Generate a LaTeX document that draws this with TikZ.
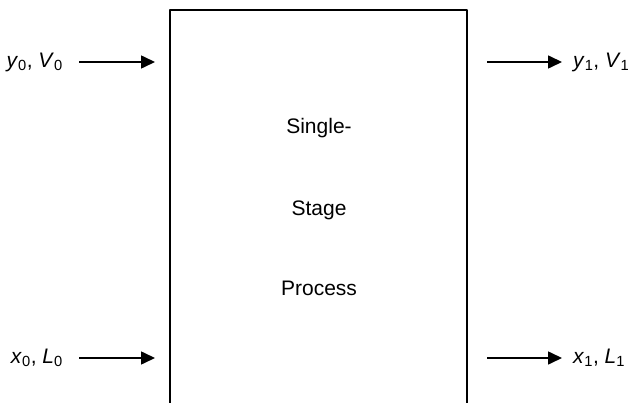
\documentclass[tikz,border=0pt]{standalone}
\usepackage{fontspec}
\setmainfont{Liberation Sans}
\usetikzlibrary{positioning,arrows.meta}
\newcommand{\var}[2]{\textit{#1}\textsubscript{#2}}
\begin{document}
\begin{tikzpicture}[x=1pt,y=-1pt,>={Triangle[length=14pt,width=13pt]}, font=\fontsize{21}{25}\selectfont, line join=round]
		\useasboundingbox (0,0) rectangle (631,403);
		\path%box corners and arrow ends
		(170,10) coordinate (TL) (467,10) coordinate (TR)
		(170,420) coordinate (BL) (467,420) coordinate (BR)
		(79,62) coordinate (Vin) (155,62) coordinate (VinE)
		(79,358) coordinate (Lin) (155,358) coordinate (LinE)
		(487,62) coordinate (Vout) (562,62) coordinate (VoutE)
		(487,358) coordinate (Lout) (562,358) coordinate (LoutE)
		;
		\draw[line width=1.3pt] (BL)--(TL)--(TR)--(BR);
		\node (s1) at (319,128) {Single-};
		\node (s2) at (319,210) {Stage};
		\node (s3) at (319,288) {Process};
		\node[anchor=east,inner sep=0pt] (y0) at (63,62) {\var{y}{0}, \var{V}{0}};
		\node[anchor=east,inner sep=0pt] (x0) at (63,358) {\var{x}{0}, \var{L}{0}};
		\node[anchor=west,inner sep=0pt] (y1) at (573,62) {\var{y}{1}, \var{V}{1}};
		\node[anchor=west,inner sep=0pt] (x1) at (573,358) {\var{x}{1}, \var{L}{1}};
		\draw[->,line width=1.6pt] (Vin)--(VinE);
		\draw[->,line width=1.6pt] (Lin)--(LinE);
		\draw[->,line width=1.6pt] (Vout)--(VoutE);
		\draw[->,line width=1.6pt] (Lout)--(LoutE);
		\end{tikzpicture}
\end{document}
